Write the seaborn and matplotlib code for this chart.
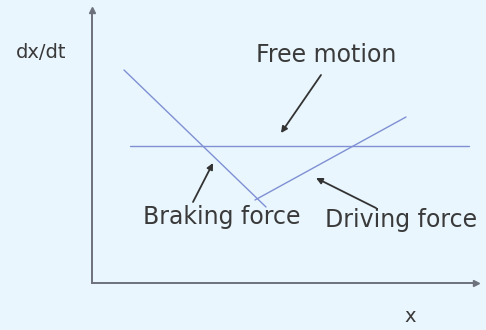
import matplotlib
matplotlib.use("Agg")
import matplotlib.pyplot as plt
import seaborn as sns
import pandas as pd

# values (x, dx/dt in arbitrary units, origin at the axes corner)
braking_x = [32, 174]
braking_y = [213, 76]
driving_x = [163, 314]
driving_y = [83, 166]
free_x = [38, 377]
free_y = [137, 137]

labels = ["Free motion", "Braking force", "Driving force"]
label_pos = [(234, 228), (130, 66), (309, 63)]
arrow_tail = [(229, 208), (101, 81), (284, 75)]
arrow_head = [(189, 150), (121, 120), (224, 105)]

bg = "#e9f6fd"
line_col = "#7f90d4"
axis_col = "#6c717c"
text_col = "#3a3a3a"

sns.set_style("white")
plt.rcParams["font.family"] = ["DejaVu Sans"]

fig = plt.figure(figsize=(4.86, 3.30), dpi=100, facecolor=bg)
ax = fig.add_axes([92 / 486, 1 - 283 / 330, 384 / 486, 273 / 330])
ax.set_facecolor(bg)

lines = pd.concat([
    pd.DataFrame({"x": braking_x, "y": braking_y, "name": "braking"}),
    pd.DataFrame({"x": driving_x, "y": driving_y, "name": "driving"}),
    pd.DataFrame({"x": free_x, "y": free_y, "name": "free"}),
])
sns.lineplot(data=lines, x="x", y="y", units="name", estimator=None,
             color=line_col, lw=1.0, ax=ax, sort=False)

ax.set_xlim(0, 384)
ax.set_ylim(0, 273)

# axes with arrowheads
for s in ["top", "right"]:
    ax.spines[s].set_visible(False)
for s in ["left", "bottom"]:
    ax.spines[s].set_color(axis_col)
    ax.spines[s].set_linewidth(1.4)
ax.plot(1, 0, ">", color=axis_col, ms=4, transform=ax.transAxes, clip_on=False)
ax.plot(0, 1, "^", color=axis_col, ms=4, transform=ax.transAxes, clip_on=False)
ax.set_xticks([])
ax.set_yticks([])
ax.set_xlabel("")
ax.set_ylabel("")

ax.text(-51, 231, "dx/dt", fontsize=14, color=text_col, ha="center", va="center")
ax.text(318, -34, "x", fontsize=14, color=text_col, ha="center", va="center")

for lab, pos, tail, head in zip(labels, label_pos, arrow_tail, arrow_head):
    ax.text(pos[0], pos[1], lab, fontsize=17, color=text_col,
            ha="center", va="center")
    ax.annotate("", xy=head, xytext=tail,
                arrowprops=dict(arrowstyle="-|>", color="#333333", lw=1.3,
                                mutation_scale=9, shrinkA=0, shrinkB=0))

fig.savefig("out.png", dpi=100, facecolor=bg)
